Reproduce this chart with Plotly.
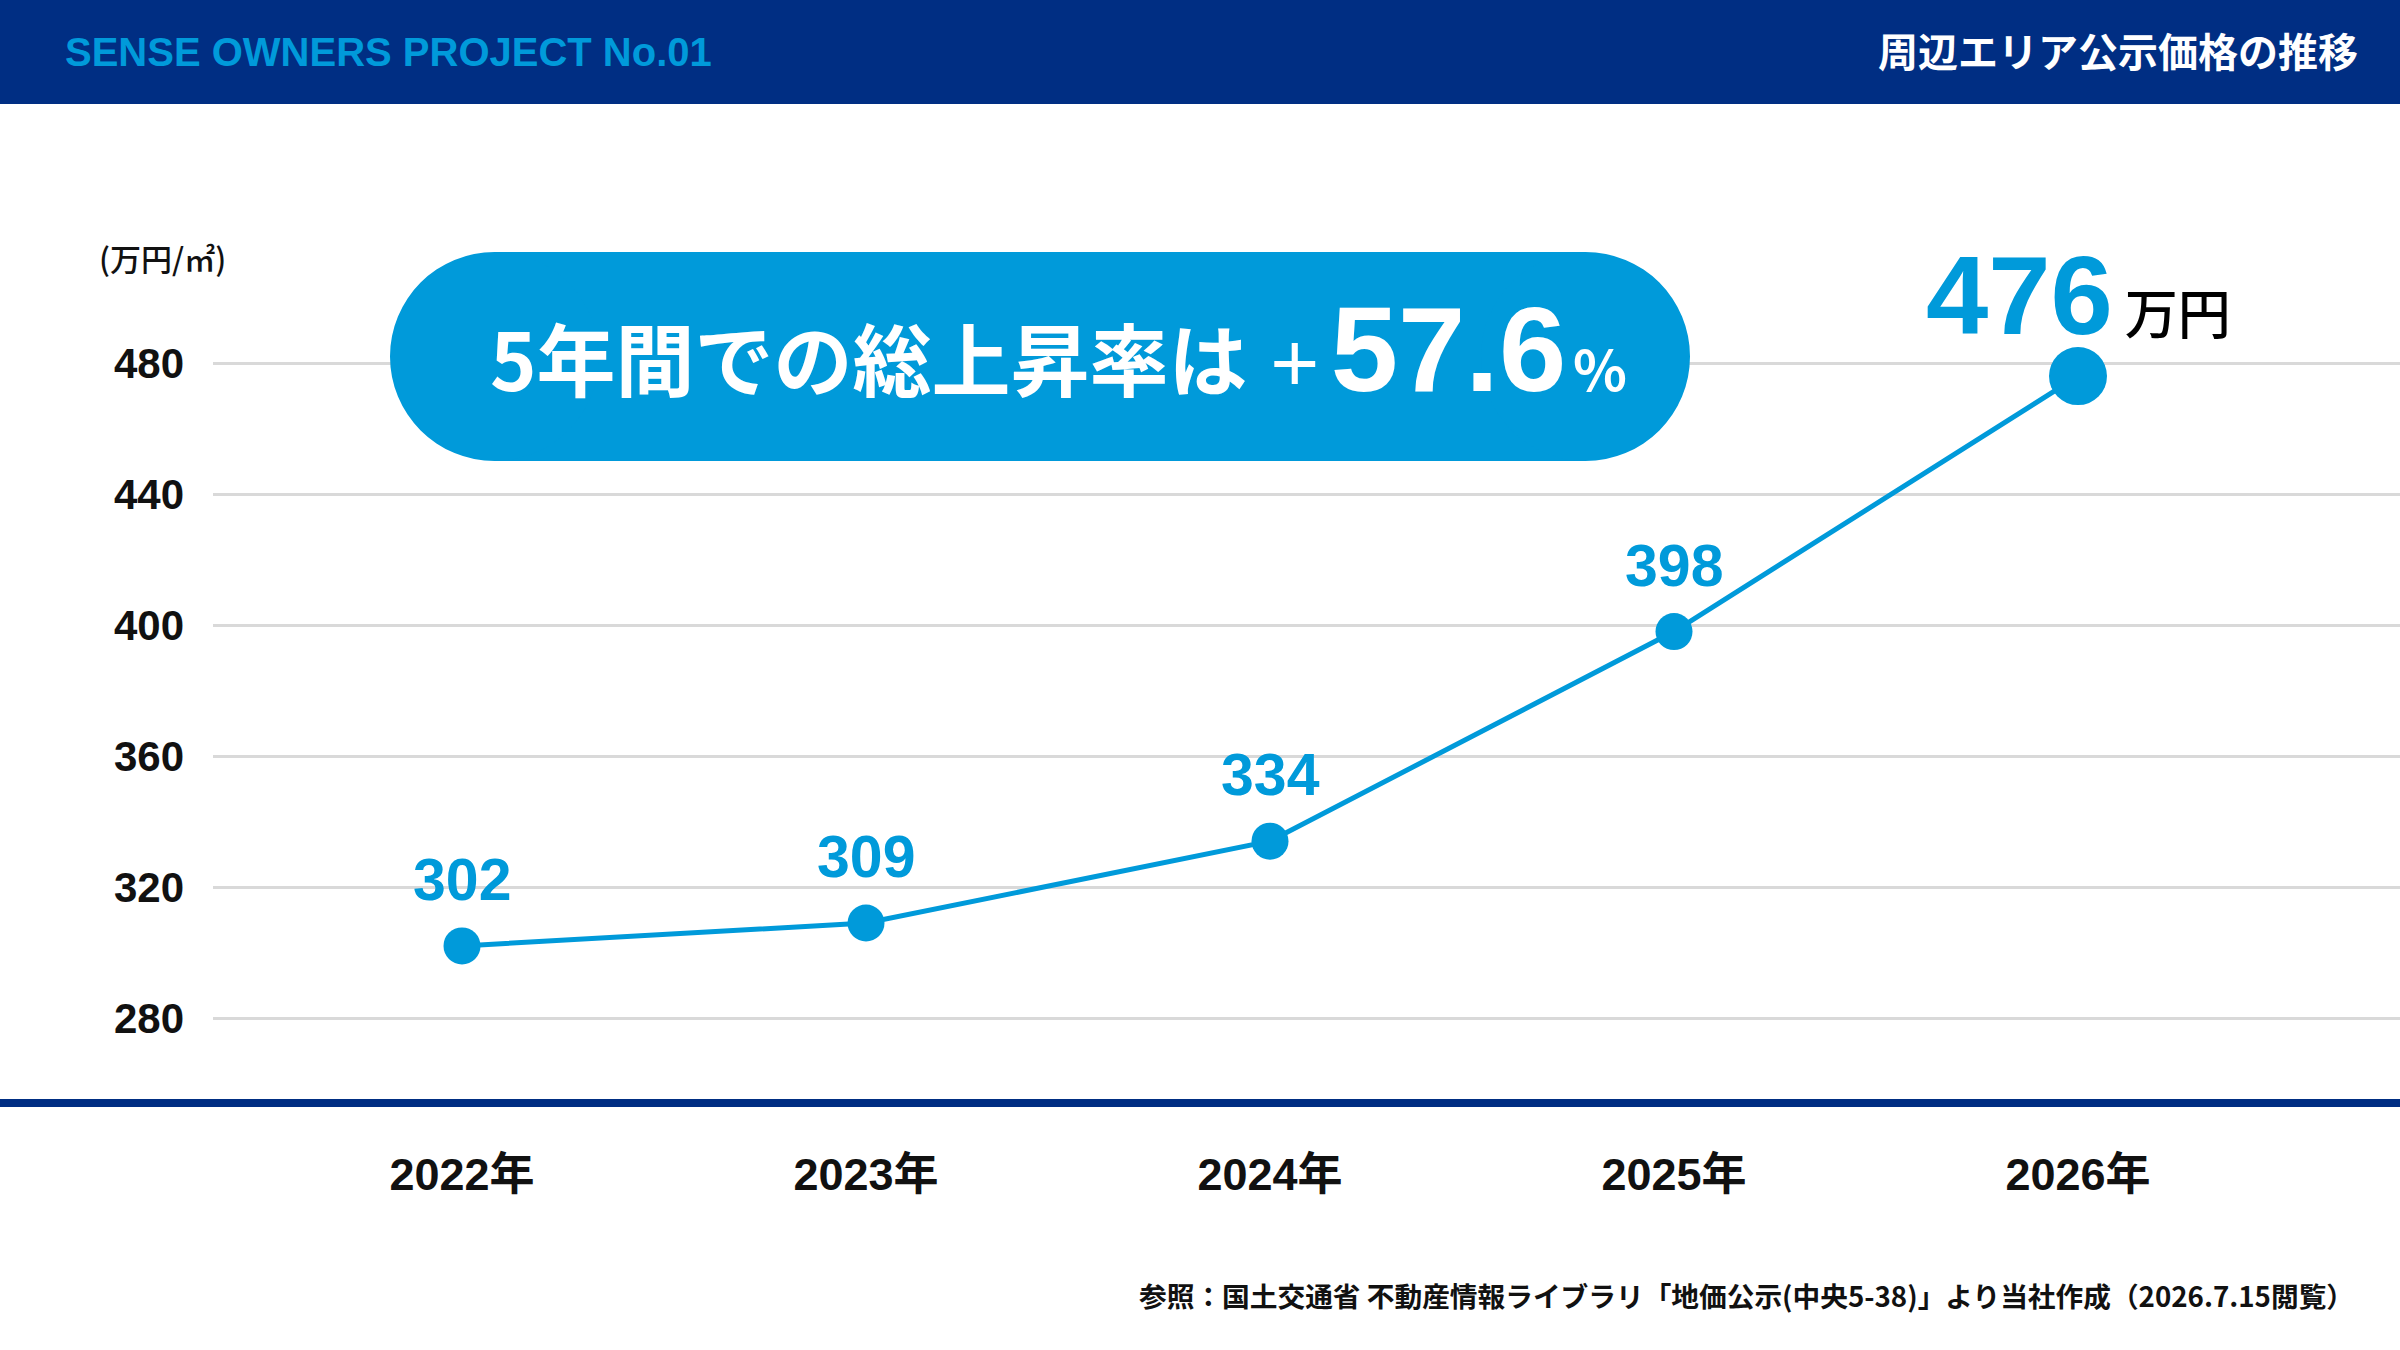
import plotly.graph_objects as go

# ---------------- data ----------------
years = ["2022年", "2023年", "2024年", "2025年", "2026年"]
prices = [302, 309, 334, 398, 476]          # 万円/㎡
price_labels = ["302", "309", "334", "398", "476"]
y_ticks = [280, 320, 360, 400, 440, 480]
y_tick_labels = ["280", "320", "360", "400", "440", "480"]
total_rise = "57.6"

header_left = "SENSE OWNERS PROJECT No.01"
header_right = "周辺エリア公示価格の推移"
unit_label = "(万円/㎡)"
callout_text = "5年間での総上昇率は"
last_unit = "万円"
footnote = "参照：国土交通省 不動産情報ライブラリ「地価公示(中央5-38)」より当社作成（2026.7.15閲覧）"

# ---------------- style / layout ----------------
W, H = 2400, 1350
NAVY = "#002E83"
BLUE = "#009ADA"
GRID = "#D9D9D9"
FONT = "Liberation Sans, Noto Sans CJK JP, sans-serif"
CJK = "Noto Sans CJK JP, Liberation Sans, sans-serif"

PLOT_L, PLOT_R, PLOT_T, PLOT_B = 213, 2400, 104, 1103
X0_PX, DX_PX = 462, 404           # pixel position of first category, spacing
Y_REF_VAL, Y_REF_PX, PX_PER_UNIT = 280, 1018, 3.275


def px(x):
    return x / W


def py(y):
    return 1 - y / H


x_idx = list(range(len(years)))
x_range = [(PLOT_L - X0_PX) / DX_PX, (PLOT_R - X0_PX) / DX_PX]
y_range = [Y_REF_VAL - (PLOT_B - Y_REF_PX) / PX_PER_UNIT,
           Y_REF_VAL + (Y_REF_PX - PLOT_T) / PX_PER_UNIT]

marker_sizes = [37] * (len(prices) - 1) + [58]

fig = go.Figure()
fig.add_trace(go.Scatter(
    x=x_idx, y=prices, mode="lines+markers", opacity=1,
    line=dict(color=BLUE, width=5),
    marker=dict(color=BLUE, size=marker_sizes, opacity=1, line=dict(width=0)),
    hoverinfo="skip", showlegend=False, cliponaxis=False,
))

annotations = []
# data labels
for i, (v, lab) in enumerate(zip(prices, price_labels)):
    if i < len(prices) - 1:
        annotations.append(dict(
            x=i, y=v, xref="x", yref="y", text=lab, showarrow=False,
            yshift=66, xanchor="center", yanchor="middle",
            font=dict(family=FONT, size=59, color=BLUE, weight="bold"),
        ))
    else:
        annotations.append(dict(
            x=i, y=v, xref="x", yref="y",
            text=(f"<b>{lab}</b><span style='font-size:53px;color:#000000;"
                  f"font-family:Noto Sans CJK JP;font-weight:500'> {last_unit}</span>"),
            showarrow=False, yshift=81, xanchor="center", yanchor="middle",
            font=dict(family=FONT, size=112, color=BLUE),
        ))

# header texts
annotations.append(dict(
    x=px(63), y=py(52), xref="paper", yref="paper", text=header_left,
    showarrow=False, xanchor="left", yanchor="middle",
    font=dict(family=FONT, size=40, color=BLUE, weight="bold"),
))
annotations.append(dict(
    x=px(2360), y=py(50), xref="paper", yref="paper", text=header_right,
    showarrow=False, xanchor="right", yanchor="middle",
    font=dict(family=CJK, size=40, color="#FFFFFF", weight="bold"),
))
# unit label
annotations.append(dict(
    x=px(97), y=py(257), xref="paper", yref="paper", text=unit_label,
    showarrow=False, xanchor="left", yanchor="middle",
    font=dict(family=CJK, size=31, color="#111111", weight=500),
))
# callout text
annotations.append(dict(
    x=px(488), y=py(347), xref="paper", yref="paper",
    text=(f"{callout_text}"
          f"<span style='font-size:100px'> </span>"
          f"<span style='font-family:Liberation Sans;font-weight:normal;font-size:84px'>+</span>"
          f"<span style='font-size:50px'> </span>"
          f"<span style='font-size:121px;font-family:Liberation Sans'>{total_rise}</span>"
          f"<span style='font-size:30px'> </span>"
          f"<span style='font-size:56px'>%</span>"),
    showarrow=False, xanchor="left", yanchor="middle",
    font=dict(family=CJK, size=79, color="#FFFFFF", weight="bold"),
))
# footnote
annotations.append(dict(
    x=px(2356), y=py(1295), xref="paper", yref="paper", text=footnote,
    showarrow=False, xanchor="right", yanchor="middle",
    font=dict(family=CJK, size=27.7, color="#111111", weight="bold"),
))

# pill geometry
PILL_L, PILL_R, PILL_T, PILL_B = 390, 1690, 252, 461
R = (PILL_B - PILL_T) / 2
shapes = [
    # header bar
    dict(type="rect", xref="paper", yref="paper", x0=0, x1=1, y0=py(104), y1=1,
         fillcolor=NAVY, line=dict(width=0), layer="above"),
    # bottom navy rule
    dict(type="rect", xref="paper", yref="paper", x0=0, x1=1,
         y0=py(1107), y1=py(1099), fillcolor=NAVY, line=dict(width=0), layer="above"),
    # callout pill
    dict(type="rect", xref="paper", yref="paper", x0=px(PILL_L + R), x1=px(PILL_R - R),
         y0=py(PILL_B), y1=py(PILL_T), fillcolor=BLUE, line=dict(width=0), layer="above"),
    dict(type="circle", xref="paper", yref="paper", x0=px(PILL_L), x1=px(PILL_L + 2 * R),
         y0=py(PILL_B), y1=py(PILL_T), fillcolor=BLUE, line=dict(width=0), layer="above"),
    dict(type="circle", xref="paper", yref="paper", x0=px(PILL_R - 2 * R), x1=px(PILL_R),
         y0=py(PILL_B), y1=py(PILL_T), fillcolor=BLUE, line=dict(width=0), layer="above"),
]

fig.update_layout(
    width=W, height=H,
    margin=dict(l=0, r=0, t=0, b=0, pad=0),
    paper_bgcolor="#FFFFFF", plot_bgcolor="#FFFFFF",
    showlegend=False,
    xaxis=dict(
        domain=[px(PLOT_L), px(PLOT_R)], range=x_range,
        tickvals=x_idx, ticktext=years, showgrid=False, zeroline=False,
        showline=False, ticks="", ticklabelstandoff=41,
        tickfont=dict(family=FONT, size=45, color="#111111", weight="bold"),
        fixedrange=True,
    ),
    yaxis=dict(
        domain=[py(PLOT_B), py(PLOT_T)], range=y_range,
        tickvals=y_ticks, ticktext=y_tick_labels, showgrid=True,
        gridcolor=GRID, gridwidth=3, zeroline=False, showline=False,
        ticks="", ticklabelstandoff=28,
        tickfont=dict(family=FONT, size=42, color="#111111", weight="bold"),
        fixedrange=True,
    ),
    annotations=annotations,
    shapes=shapes,
)

fig.write_html("out.html", config={"displayModeBar": False},
               post_script="document.body.style.margin='0';")
